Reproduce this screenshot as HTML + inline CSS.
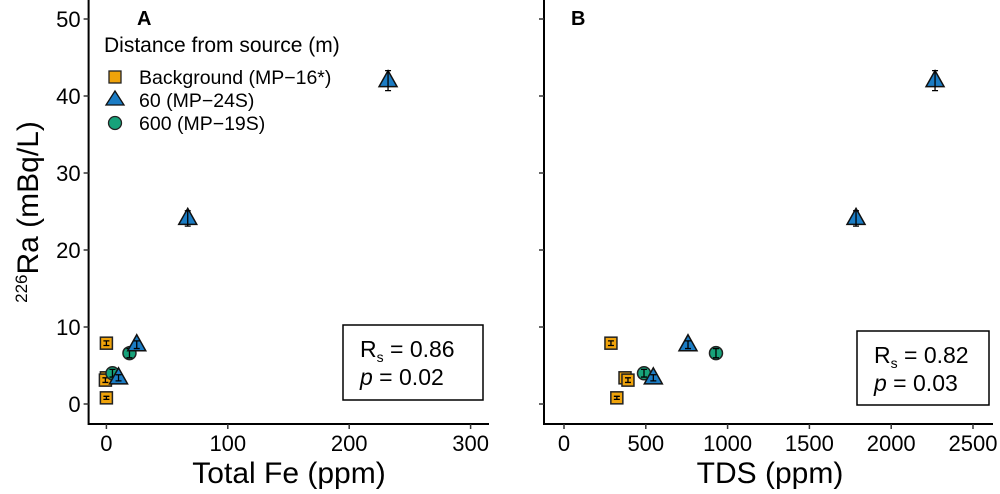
<!DOCTYPE html>
<html><head><meta charset="utf-8"><style>
body{margin:0;background:#fff;width:1000px;height:489px;overflow:hidden}
svg text{font-family:"Liberation Sans",Arial,sans-serif;fill:#000}
</style></head><body>
<svg id="chart" width="1000" height="489" viewBox="0 0 1000 489"></svg>
<script>
const yTicks=[0,10,20,30,40,50];
const xTicksA=[0,100,200,300];
const xTicksB=[0,500,1000,1500,2000,2500];
const bgFe=[0,0,0,0];
const bgTds=[287,373,391,323];
const bgRa=[7.9,3.4,3.1,0.8];
const bgErr=[0.3,0.3,0.3,0.2];
const s60Fe=[232,67,25,10];
const s60Tds=[2268,1785,758,546];
const s60Ra=[42,24.1,7.7,3.4];
const s60Err=[1.3,1.0,0.5,0.4];
const s600Fe=[19,5];
const s600Tds=[929,489];
const s600Ra=[6.6,4.0];
const s600Err=[0.6,0.5];

const NS="http://www.w3.org/2000/svg";
const svg=document.getElementById('chart');
function mk(tag,attrs,parent){const e=document.createElementNS(NS,tag);for(const k in attrs)e.setAttribute(k,attrs[k]);(parent||svg).appendChild(e);return e;}
const yS=v=>404-v*7.7;
const xA=v=>106.4+v*1.214;
const xB=v=>564+v*0.1636;

function panel(left,right,xs,xticks,showY,gname){
  const g=mk('g',{});
  
  
  const ax=mk('path',{d:`M${left},0 V424 H${right}`,fill:'none',stroke:'#000','stroke-width':2},g);
  
  
  yTicks.forEach(t=>{
    mk('line',{x1:left-5,x2:left,y1:yS(t),y2:yS(t),stroke:'#333','stroke-width':1.5},g);
    if(showY){const tx=mk('text',{x:left-8,y:yS(t)+8,'font-size':22,'text-anchor':'end'},g);tx.textContent=t;
      
      }
  });
  xticks.forEach(t=>{
    mk('line',{x1:xs(t),x2:xs(t),y1:424,y2:429,stroke:'#333','stroke-width':1.5},g);
    const tx=mk('text',{x:xs(t),y:451,'font-size':22,'text-anchor':'middle'},g);tx.textContent=t;
    
    
  });
  return g;
}
function err(g,x,y,e){
  mk('path',{d:`M${x},${yS(y+e)}V${yS(y-e)}M${x-3},${yS(y+e)}h6M${x-3},${yS(y-e)}h6`,stroke:'#000','stroke-width':1.3,fill:'none'},g);
}
function sq(g,x,y,e){const m=mk('rect',{x:x-6,y:yS(y)-6,width:12,height:12,fill:'#f0a30a',stroke:'#222','stroke-width':1.5},g);
  
  
  err(g,x,y,e);}
function tri(g,x,y,e){const cy=yS(y);const m=mk('path',{d:`M${x},${cy-10}L${x+9},${cy+6}L${x-9},${cy+6}Z`,fill:'#1b7cc4',stroke:'#111','stroke-width':1.5},g);
  
  
  err(g,x,y,e);}
function circ(g,x,y,e){const m=mk('circle',{cx:x,cy:yS(y),r:6.5,fill:'#17a27a',stroke:'#222','stroke-width':1.5},g);
  
  
  err(g,x,y,e);}
function statBox(g,x,y,w,h,rs,p){
  const b=mk('rect',{x,y,width:w,height:h,fill:'#fff',stroke:'#000','stroke-width':1.5},g);
  
  
  const t1=mk('text',{x:x+17,y:y+32,'font-size':23},g);
  t1.innerHTML=`R<tspan font-size="14" dy="5">s</tspan><tspan dy="-5"> = ${rs}</tspan>`;
  
  
  const t2=mk('text',{x:x+17,y:y+60,'font-size':23},g);
  t2.innerHTML=`<tspan font-style="italic">p</tspan> = ${p}`;
  
  
}
// Panel A
const gA=panel(88.6,489,xA,xTicksA,true,'panel-a');
statBox(gA,343,325,140,75,'0.86','0.02');
bgFe.forEach((v,i)=>sq(gA,xA(v)+(i==2?-1:0),bgRa[i],bgErr[i]));
s600Fe.forEach((v,i)=>circ(gA,xA(v),s600Ra[i],s600Err[i]));
s60Fe.forEach((v,i)=>tri(gA,xA(v),s60Ra[i],s60Err[i]));
// Panel B
const gB=panel(544,993,xB,xTicksB,false,'panel-b');
statBox(gB,857,331,132,74,'0.82','0.03');
bgTds.forEach((v,i)=>sq(gB,xB(v),bgRa[i],bgErr[i]));
s600Tds.forEach((v,i)=>circ(gB,xB(v),s600Ra[i],s600Err[i]));
s60Tds.forEach((v,i)=>tri(gB,xB(v),s60Ra[i],s60Err[i]));

function txt(x,y,s,attrs,name){const t=mk('text',Object.assign({x,y},attrs));t.innerHTML=s;
  
  return t;}
txt(137,25,'A',{'font-size':20,'font-weight':'bold'},'panel-label-a');
txt(571,25,'B',{'font-size':20,'font-weight':'bold'},'panel-label-b');
txt(289,483,'Total Fe (ppm)',{'font-size':30,'text-anchor':'middle'},'x-axis-title-a');
txt(770,483,'TDS (ppm)',{'font-size':30,'text-anchor':'middle'},'x-axis-title-b');
txt(0,0,'<tspan font-size="17" dy="-11">226</tspan><tspan dy="11" font-size="30">Ra (mBq/L)</tspan>',{'text-anchor':'middle',transform:'translate(38,212) rotate(-90)'},'y-axis-title');
// legend
const lg=mk('g',{});


txt(104,52,'Distance from source (m)',{'font-size':21},'legend-title');
const ls=mk('rect',{x:109,y:71,width:12,height:12,fill:'#f0a30a',stroke:'#222','stroke-width':1.3},lg);


txt(139,84,'Background (MP−16*)',{'font-size':19.5},'legend-label-background');
const lt=mk('path',{d:'M115,91L124,105L106,105Z',fill:'#1b7cc4',stroke:'#111','stroke-width':1.3},lg);


txt(139,107,'60 (MP−24S)',{'font-size':19.5},'legend-label-60m');
const lc=mk('circle',{cx:115,cy:123,r:6.5,fill:'#17a27a',stroke:'#222','stroke-width':1.3},lg);


txt(139,130,'600 (MP−19S)',{'font-size':19.5},'legend-label-600m');
</script>
</body></html>
